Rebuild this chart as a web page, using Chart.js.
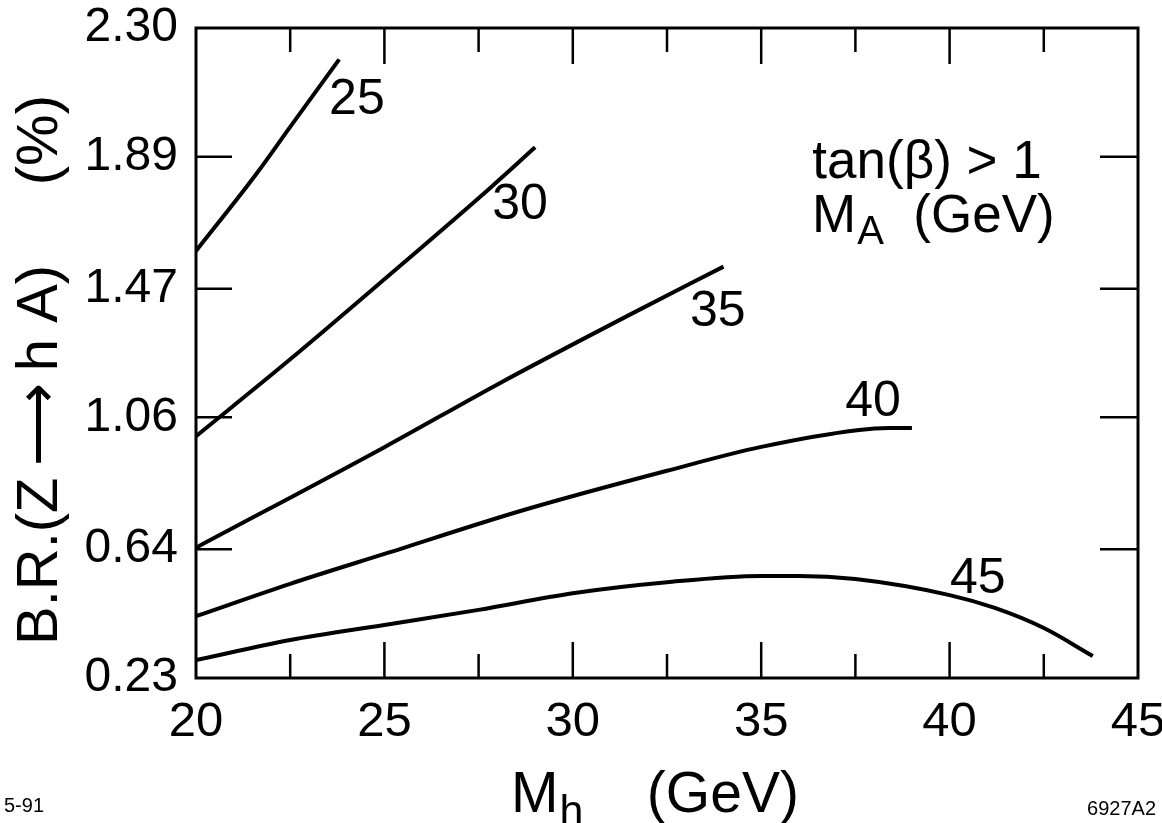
<!DOCTYPE html>
<html>
<head>
<meta charset="utf-8">
<script src="https://cdn.jsdelivr.net/npm/chart.js@4.4.1/dist/chart.umd.min.js"></script>
<style>
  html, body { margin: 0; padding: 0; background: #fff; }
  #wrap { width: 1162px; height: 823px; }
</style>
</head>
<body>
<div id="wrap"><canvas id="brChart" width="1162" height="823"></canvas></div>
<script>
// M_h (GeV) and B.R.(Z -> h A) in %, one curve per M_A
const mh25 = [20, 21.6, 22.5, 23.8];
const br25 = [1.59, 1.835, 1.985, 2.20];
const mh30 = [20, 22.5, 25, 27.8, 29];
const br30 = [1.00, 1.245, 1.50, 1.79, 1.92];
const mh35 = [20, 25, 28, 31.4, 34];
const br35 = [0.645, 0.965, 1.165, 1.38, 1.54];
const mh40 = [20, 22.5, 25, 28.7, 32.5, 35, 37.6, 38.4, 39];
const br40 = [0.427, 0.53, 0.625, 0.765, 0.89, 0.966, 1.02, 1.026, 1.026];
const mh45 = [20, 22.5, 25, 27.5, 30, 32.5, 35, 36, 37.5, 40, 41.2, 42.5, 43.8];
const br45 = [0.287, 0.351, 0.399, 0.447, 0.50, 0.535, 0.555, 0.555, 0.545, 0.494, 0.453, 0.389, 0.30];

const maLabels = ['25', '30', '35', '40', '45'];
const maLabelX = [24.27, 28.6, 33.85, 37.97, 40.75];
const maLabelY = [2.07, 1.736, 1.396, 1.109, 0.545];

const xTicks = [20, 25, 30, 35, 40, 45];
const xMinorTicks = [22.5, 27.5, 32.5, 37.5, 42.5];
const yTicks = [0.23, 0.64, 1.06, 1.47, 1.89, 2.30];

const FONT = '"Liberation Sans", Arial, Helvetica, sans-serif';

function toPoints(xs, ys) {
    return xs.map((x, i) => ({ x: x, y: ys[i] }));
}

function curve(xs, ys) {
    return {
        data: toPoints(xs, ys),
        borderColor: '#000',
        borderWidth: 4,
        pointRadius: 0,
        fill: false,
        cubicInterpolationMode: 'monotone'
    };
}

function drawSub(ctx, x, y, main, sub, rest, size) {
    ctx.font = size + 'px ' + FONT;
    ctx.fillText(main, x, y);
    let w = ctx.measureText(main).width;
    ctx.font = Math.round(size * 0.75) + 'px ' + FONT;
    ctx.fillText(sub, x + w + 1, y + size * 0.22);
    w += ctx.measureText(sub).width + 1;
    ctx.font = size + 'px ' + FONT;
    ctx.fillText(rest, x + w, y);
}

function subWidth(ctx, main, sub, rest, size) {
    ctx.font = size + 'px ' + FONT;
    let w = ctx.measureText(main).width + ctx.measureText(rest).width;
    ctx.font = Math.round(size * 0.75) + 'px ' + FONT;
    return w + ctx.measureText(sub).width + 1;
}

// labels overhang the plot box; keep the box itself where the figure has it
function noOverhang(scale) {
    scale.paddingTop = 0;
    scale.paddingBottom = 0;
    scale.paddingLeft = 0;
    scale.paddingRight = 0;
}

const framePlugin = {
    id: 'frame',
    afterDraw(chart) {
        const ctx = chart.ctx;
        const a = chart.chartArea;
        const xs = chart.scales.x;
        const ys = chart.scales.y;
        ctx.save();
        ctx.strokeStyle = '#000';
        ctx.fillStyle = '#000';

        // frame
        ctx.lineWidth = 3;
        ctx.strokeRect(a.left, a.top, a.right - a.left, a.bottom - a.top);

        // inward tick marks
        ctx.lineWidth = 2.5;
        ctx.beginPath();
        xTicks.slice(1, -1).forEach(v => {
            const px = xs.getPixelForValue(v);
            ctx.moveTo(px, a.bottom); ctx.lineTo(px, a.bottom - 36);
            ctx.moveTo(px, a.top); ctx.lineTo(px, a.top + 36);
        });
        xMinorTicks.forEach(v => {
            const px = xs.getPixelForValue(v);
            ctx.moveTo(px, a.bottom); ctx.lineTo(px, a.bottom - 24);
            ctx.moveTo(px, a.top); ctx.lineTo(px, a.top + 24);
        });
        yTicks.slice(1, -1).forEach(v => {
            const py = ys.getPixelForValue(v);
            ctx.moveTo(a.left, py); ctx.lineTo(a.left + 36, py);
            ctx.moveTo(a.right, py); ctx.lineTo(a.right - 38, py);
        });
        ctx.stroke();

        // curve labels (M_A values)
        ctx.font = '50px ' + FONT;
        ctx.textAlign = 'center';
        ctx.textBaseline = 'middle';
        maLabels.forEach((t, i) => {
            ctx.fillText(t, xs.getPixelForValue(maLabelX[i]), ys.getPixelForValue(maLabelY[i]));
        });

        // annotation
        ctx.textBaseline = 'alphabetic';
        ctx.font = '53px ' + FONT;
        ctx.fillText('tan(\u03B2) > 1', xs.getPixelForValue(39.4), ys.getPixelForValue(1.822));
        ctx.textAlign = 'left';
        drawSub(ctx, xs.getPixelForValue(36.35), ys.getPixelForValue(1.65), 'M', 'A', '  (GeV)', 53);

        // x axis title
        const tw = subWidth(ctx, 'M', 'h', '    (GeV)', 57);
        const cx = (a.left + a.right) / 2 - 12;
        drawSub(ctx, cx - tw / 2, 812, 'M', 'h', '    (GeV)', 57);

        // y axis title
        ctx.save();
        ctx.translate(57, 645);
        ctx.rotate(-Math.PI / 2);
        ctx.font = '58px ' + FONT;
        ctx.textAlign = 'left';
        ctx.fillText('B.R.(Z\u2009\u27F6\u2009h A)', 0, 0);
        ctx.textAlign = 'right';
        ctx.fillText('(%)', 550, 0);
        ctx.restore();

        // corner notes
        ctx.font = '20px ' + FONT;
        ctx.textAlign = 'left';
        ctx.fillText('5-91', 4, 812);
        ctx.textAlign = 'right';
        ctx.fillText('6927A2', 1156, 815);
        ctx.restore();
    }
};

new Chart(document.getElementById('brChart'), {
    type: 'line',
    data: {
        datasets: [
            curve(mh25, br25),
            curve(mh30, br30),
            curve(mh35, br35),
            curve(mh40, br40),
            curve(mh45, br45)
        ]
    },
    options: {
        responsive: false,
        animation: false,
        devicePixelRatio: 1,
        layout: { padding: { top: 28, right: 24, left: 0, bottom: 0 } },
        plugins: {
            legend: { display: false },
            tooltip: { enabled: false }
        },
        scales: {
            x: {
                type: 'linear',
                min: 20,
                max: 45,
                grid: { display: false },
                border: { display: false },
                afterBuildTicks: scale => { scale.ticks = xTicks.map(v => ({ value: v })); },
                afterFit: scale => { scale.height = 145; noOverhang(scale); },
                ticks: {
                    color: '#000',
                    padding: 7,
                    maxRotation: 0,
                    font: { family: FONT, size: 49 },
                    callback: v => String(v)
                }
            },
            y: {
                type: 'linear',
                min: 0.23,
                max: 2.30,
                grid: { display: false },
                border: { display: false },
                afterBuildTicks: scale => { scale.ticks = yTicks.map(v => ({ value: v })); },
                afterFit: scale => { scale.width = 196; noOverhang(scale); },
                ticks: {
                    color: '#000',
                    padding: 10,
                    font: { family: FONT, size: 48 },
                    callback: v => v.toFixed(2)
                }
            }
        }
    },
    plugins: [framePlugin]
});
</script>
</body>
</html>
